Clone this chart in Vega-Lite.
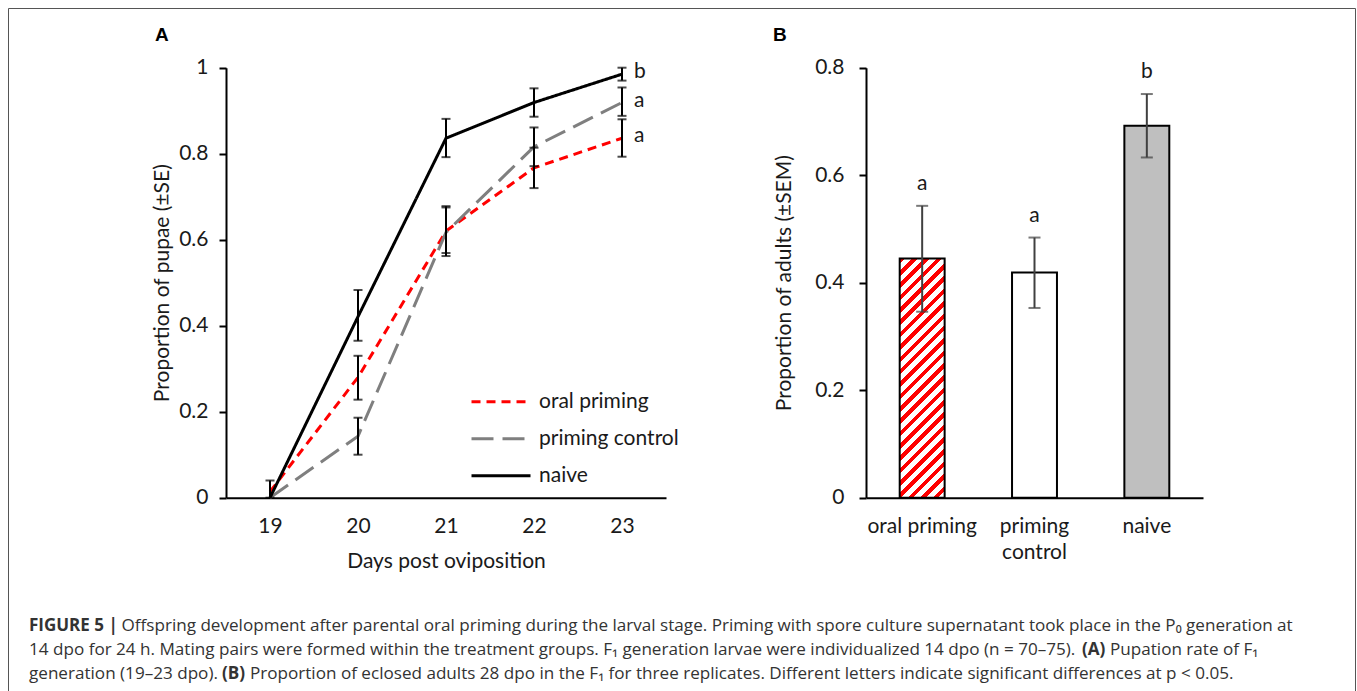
{
  "$schema": "https://vega.github.io/schema/vega-lite/v6.json",
  "background": "white",
  "width": 1347,
  "height": 684,
  "autosize": {"type": "none"},
  "padding": {"left": 8, "top": 8, "right": 2, "bottom": -1},
  "view": {"stroke": "#555555", "strokeWidth": 1},
  "config": {
    "axis": {
      "labelFont": "Lato", "titleFont": "Lato", "labelFontSize": 21, "titleFontSize": 21,
      "labelColor": "#1a1a1a", "titleColor": "#1a1a1a", "titleFontWeight": "normal",
      "domainColor": "black", "domainWidth": 2, "tickColor": "black", "tickWidth": 2, "grid": false
    },
    "text": {"font": "Lato", "fontSize": 21, "color": "#1a1a1a"}
  },
  "resolve": {
    "scale": {"x": "independent", "y": "independent"},
    "axis": {"x": "independent", "y": "independent"}
  },
  "layer": [
    {
      "data": {"values": [
        {"group": "oral priming", "day": 19, "value": 0.014, "lo": 0, "hi": 0.04},
        {"group": "oral priming", "day": 20, "value": 0.28, "lo": 0.228, "hi": 0.33},
        {"group": "oral priming", "day": 21, "value": 0.62, "lo": 0.562, "hi": 0.678},
        {"group": "oral priming", "day": 22, "value": 0.767, "lo": 0.72, "hi": 0.814},
        {"group": "oral priming", "day": 23, "value": 0.836, "lo": 0.793, "hi": 0.88, "sig": "a"},
        {"group": "priming control", "day": 19, "value": 0, "lo": null, "hi": null},
        {"group": "priming control", "day": 20, "value": 0.143, "lo": 0.1, "hi": 0.186},
        {"group": "priming control", "day": 21, "value": 0.617, "lo": 0.569, "hi": 0.675},
        {"group": "priming control", "day": 22, "value": 0.816, "lo": 0.771, "hi": 0.861},
        {"group": "priming control", "day": 23, "value": 0.919, "lo": 0.888, "hi": 0.954, "sig": "a"},
        {"group": "naive", "day": 19, "value": 0, "lo": null, "hi": null},
        {"group": "naive", "day": 20, "value": 0.421, "lo": 0.365, "hi": 0.483},
        {"group": "naive", "day": 21, "value": 0.836, "lo": 0.792, "hi": 0.881},
        {"group": "naive", "day": 22, "value": 0.919, "lo": 0.886, "hi": 0.952},
        {"group": "naive", "day": 23, "value": 0.985, "lo": 0.97, "hi": 1.0, "sig": "b"}
      ]},
      "encoding": {
        "x": {"field": "day", "type": "quantitative",
          "scale": {"domain": [18.5, 23.5], "range": [218, 658], "nice": false, "zero": false},
          "axis": {"orient": "bottom", "offset": -194.3, "values": [19, 20, 21, 22, 23], "format": "d", "ticks": false, "tickSize": 0, "labelPadding": 18, "title": "Days post oviposition", "titlePadding": 14}}
      },
      "layer": [
        {
          "mark": {"type": "line", "strokeWidth": 3},
          "encoding": {
            "y": {"field": "value", "type": "quantitative", "title": "Proportion of pupae (±SE)",
              "scale": {"domain": [0, 1], "range": [489.7, 59.7], "nice": false, "zero": false},
              "axis": {"orient": "left", "offset": -218, "values": [0, 0.2, 0.4, 0.6, 0.8, 1], "format": "~g", "tickSize": 7, "labelPadding": 11, "titlePadding": 6}},
            "color": {"field": "group", "type": "nominal",
              "scale": {"domain": ["oral priming", "priming control", "naive"], "range": ["#ff0000", "#7f7f7f", "#000000"]},
              "legend": {"orient": "none", "legendX": 462, "legendY": 380.7, "title": null, "symbolType": "stroke", "symbolSize": 3481, "symbolStrokeWidth": 3, "clipHeight": 26, "rowPadding": 11, "labelOffset": 7, "labelFont": "Lato", "labelFontSize": 21, "labelColor": "#1a1a1a", "padding": 0}},
            "strokeDash": {"field": "group", "type": "nominal",
              "scale": {"domain": ["oral priming", "priming control", "naive"], "range": [[9, 6], [22, 9], [1, 0]]},
              "legend": {"orient": "none", "legendX": 462, "legendY": 380.7, "title": null, "symbolType": "stroke", "symbolSize": 3481, "symbolStrokeWidth": 3, "clipHeight": 26, "rowPadding": 11, "labelOffset": 7, "labelFont": "Lato", "labelFontSize": 21, "labelColor": "#1a1a1a", "padding": 0}}
          }
        },
        {
          "mark": {"type": "rule", "strokeWidth": 2, "color": "black"},
          "encoding": {
            "y": {"field": "lo", "type": "quantitative", "title": "Proportion of pupae (±SE)"},
            "y2": {"field": "hi"}
          }
        },
        {
          "mark": {"type": "tick", "orient": "horizontal", "size": 9, "thickness": 2, "color": "black"},
          "encoding": {"y": {"field": "lo", "type": "quantitative", "title": "Proportion of pupae (±SE)"}}
        },
        {
          "mark": {"type": "tick", "orient": "horizontal", "size": 9, "thickness": 2, "color": "black"},
          "encoding": {"y": {"field": "hi", "type": "quantitative", "title": "Proportion of pupae (±SE)"}}
        },
        {
          "transform": [{"filter": "datum.sig != null"}],
          "mark": {"type": "text", "align": "left", "baseline": "middle", "dx": 12, "dy": -2, "font": "Lato", "fontSize": 21, "color": "#1a1a1a"},
          "encoding": {
            "y": {"field": "value", "type": "quantitative", "title": "Proportion of pupae (±SE)"},
            "text": {"field": "sig"}
          }
        },
        {
          "transform": [{"filter": "datum.group == 'naive' && datum.day == 19"}],
          "mark": {"type": "text", "align": "left", "baseline": "middle", "dx": -115, "dy": -462.7, "font": "Liberation Sans", "fontSize": 19, "fontWeight": "bold", "color": "black"},
          "encoding": {
            "y": {"field": "value", "type": "quantitative", "title": "Proportion of pupae (±SE)"},
            "text": {"value": "A"}
          }
        },
        {
          "transform": [{"filter": "datum.group == 'naive' && datum.day == 19"}],
          "mark": {"type": "text", "align": "left", "baseline": "middle", "dx": 503, "dy": -462.7, "font": "Liberation Sans", "fontSize": 19, "fontWeight": "bold", "color": "black"},
          "encoding": {
            "y": {"field": "value", "type": "quantitative", "title": "Proportion of pupae (±SE)"},
            "text": {"value": "B"}
          }
        }
      ]
    },
    {
      "data": {"values": [
        {"group": "oral priming", "prop": 0.445, "lo": 0.346, "hi": 0.543, "sig": "a"},
        {"group": "priming control", "prop": 0.419, "lo": 0.353, "hi": 0.484, "sig": "a"},
        {"group": "naive", "prop": 0.692, "lo": 0.633, "hi": 0.751, "sig": "b"}
      ]},
      "encoding": {
        "x": {"field": "group", "type": "nominal", "sort": ["oral priming", "priming control", "naive"],
          "scale": {"range": [858, 1195], "paddingInner": 0.6, "paddingOuter": 0.3},
          "axis": {"orient": "bottom", "offset": -194.3, "title": null, "ticks": false, "tickSize": 0, "labelAngle": 0, "labelPadding": 18, "labelLineHeight": 26,
            "labelExpr": "datum.label == 'priming control' ? ['priming', 'control'] : datum.label"}}
      },
      "layer": [
        {
          "mark": {"type": "bar", "stroke": "black", "strokeWidth": 2},
          "encoding": {
            "y": {"field": "prop", "type": "quantitative", "title": "Proportion of adults (±SEM)",
              "scale": {"domain": [0, 0.8], "range": [489.7, 59.7], "nice": false},
              "axis": {"orient": "left", "offset": -858, "values": [0, 0.2, 0.4, 0.6, 0.8], "format": "~g", "tickSize": 7, "labelPadding": 15, "titlePadding": 20}},
            "fill": {
              "condition": [
                {"test": "datum.group === 'oral priming'", "value": {
                  "gradient": "linear", "x1": 0, "y1": 0, "x2": 0.2155, "y2": 1.1475,
                  "stops": [
                    {"offset": 0, "color": "#ff0000"}, {"offset": 0.019565, "color": "#ff0000"}, {"offset": 0.019565, "color": "#ffffff"}, {"offset": 0.043478, "color": "#ffffff"},
                    {"offset": 0.043478, "color": "#ff0000"}, {"offset": 0.063043, "color": "#ff0000"}, {"offset": 0.063043, "color": "#ffffff"}, {"offset": 0.086957, "color": "#ffffff"},
                    {"offset": 0.086957, "color": "#ff0000"}, {"offset": 0.106522, "color": "#ff0000"}, {"offset": 0.106522, "color": "#ffffff"}, {"offset": 0.130435, "color": "#ffffff"},
                    {"offset": 0.130435, "color": "#ff0000"}, {"offset": 0.15, "color": "#ff0000"}, {"offset": 0.15, "color": "#ffffff"}, {"offset": 0.173913, "color": "#ffffff"},
                    {"offset": 0.173913, "color": "#ff0000"}, {"offset": 0.193478, "color": "#ff0000"}, {"offset": 0.193478, "color": "#ffffff"}, {"offset": 0.217391, "color": "#ffffff"},
                    {"offset": 0.217391, "color": "#ff0000"}, {"offset": 0.236957, "color": "#ff0000"}, {"offset": 0.236957, "color": "#ffffff"}, {"offset": 0.26087, "color": "#ffffff"},
                    {"offset": 0.26087, "color": "#ff0000"}, {"offset": 0.280435, "color": "#ff0000"}, {"offset": 0.280435, "color": "#ffffff"}, {"offset": 0.304348, "color": "#ffffff"},
                    {"offset": 0.304348, "color": "#ff0000"}, {"offset": 0.323913, "color": "#ff0000"}, {"offset": 0.323913, "color": "#ffffff"}, {"offset": 0.347826, "color": "#ffffff"},
                    {"offset": 0.347826, "color": "#ff0000"}, {"offset": 0.367391, "color": "#ff0000"}, {"offset": 0.367391, "color": "#ffffff"}, {"offset": 0.391304, "color": "#ffffff"},
                    {"offset": 0.391304, "color": "#ff0000"}, {"offset": 0.41087, "color": "#ff0000"}, {"offset": 0.41087, "color": "#ffffff"}, {"offset": 0.434783, "color": "#ffffff"},
                    {"offset": 0.434783, "color": "#ff0000"}, {"offset": 0.454348, "color": "#ff0000"}, {"offset": 0.454348, "color": "#ffffff"}, {"offset": 0.478261, "color": "#ffffff"},
                    {"offset": 0.478261, "color": "#ff0000"}, {"offset": 0.497826, "color": "#ff0000"}, {"offset": 0.497826, "color": "#ffffff"}, {"offset": 0.521739, "color": "#ffffff"},
                    {"offset": 0.521739, "color": "#ff0000"}, {"offset": 0.541304, "color": "#ff0000"}, {"offset": 0.541304, "color": "#ffffff"}, {"offset": 0.565217, "color": "#ffffff"},
                    {"offset": 0.565217, "color": "#ff0000"}, {"offset": 0.584783, "color": "#ff0000"}, {"offset": 0.584783, "color": "#ffffff"}, {"offset": 0.608696, "color": "#ffffff"},
                    {"offset": 0.608696, "color": "#ff0000"}, {"offset": 0.628261, "color": "#ff0000"}, {"offset": 0.628261, "color": "#ffffff"}, {"offset": 0.652174, "color": "#ffffff"},
                    {"offset": 0.652174, "color": "#ff0000"}, {"offset": 0.671739, "color": "#ff0000"}, {"offset": 0.671739, "color": "#ffffff"}, {"offset": 0.695652, "color": "#ffffff"},
                    {"offset": 0.695652, "color": "#ff0000"}, {"offset": 0.715217, "color": "#ff0000"}, {"offset": 0.715217, "color": "#ffffff"}, {"offset": 0.73913, "color": "#ffffff"},
                    {"offset": 0.73913, "color": "#ff0000"}, {"offset": 0.758696, "color": "#ff0000"}, {"offset": 0.758696, "color": "#ffffff"}, {"offset": 0.782609, "color": "#ffffff"},
                    {"offset": 0.782609, "color": "#ff0000"}, {"offset": 0.802174, "color": "#ff0000"}, {"offset": 0.802174, "color": "#ffffff"}, {"offset": 0.826087, "color": "#ffffff"},
                    {"offset": 0.826087, "color": "#ff0000"}, {"offset": 0.845652, "color": "#ff0000"}, {"offset": 0.845652, "color": "#ffffff"}, {"offset": 0.869565, "color": "#ffffff"},
                    {"offset": 0.869565, "color": "#ff0000"}, {"offset": 0.88913, "color": "#ff0000"}, {"offset": 0.88913, "color": "#ffffff"}, {"offset": 0.913043, "color": "#ffffff"},
                    {"offset": 0.913043, "color": "#ff0000"}, {"offset": 0.932609, "color": "#ff0000"}, {"offset": 0.932609, "color": "#ffffff"}, {"offset": 0.956522, "color": "#ffffff"},
                    {"offset": 0.956522, "color": "#ff0000"}, {"offset": 0.976087, "color": "#ff0000"}, {"offset": 0.976087, "color": "#ffffff"}, {"offset": 1, "color": "#ffffff"}
                  ]}},
                {"test": "datum.group === 'naive'", "value": "#bfbfbf"}
              ],
              "value": "#ffffff"
            }
          }
        },
        {
          "mark": {"type": "rule", "strokeWidth": 2, "color": "#404040"},
          "encoding": {
            "y": {"field": "lo", "type": "quantitative", "title": "Proportion of adults (±SEM)"},
            "y2": {"field": "hi"}
          }
        },
        {
          "mark": {"type": "tick", "orient": "horizontal", "size": 12, "thickness": 2, "color": "#404040"},
          "encoding": {"y": {"field": "lo", "type": "quantitative", "title": "Proportion of adults (±SEM)"}}
        },
        {
          "mark": {"type": "tick", "orient": "horizontal", "size": 12, "thickness": 2, "color": "#404040"},
          "encoding": {"y": {"field": "hi", "type": "quantitative", "title": "Proportion of adults (±SEM)"}}
        },
        {
          "mark": {"type": "text", "align": "center", "baseline": "middle", "dy": -22, "font": "Lato", "fontSize": 21, "color": "#1a1a1a"},
          "encoding": {
            "y": {"field": "hi", "type": "quantitative", "title": "Proportion of adults (±SEM)"},
            "text": {"field": "sig"}
          }
        }
      ]
    },
    {
      "data": {"values": [
        {"seg": "l1b", "line": 1, "text": "FIGURE 5 |"},
        {"seg": "l1n", "line": 1, "text": "Offspring development after parental oral priming during the larval stage. Priming with spore culture supernatant took place in the P₀ generation at"},
        {"seg": "l2a", "line": 2, "text": "14 dpo for 24 h. Mating pairs were formed within the treatment groups. F₁ generation larvae were individualized 14 dpo (n = 70–75)."},
        {"seg": "l2b", "line": 2, "text": "(A)"},
        {"seg": "l2c", "line": 2, "text": "Pupation rate of F₁"},
        {"seg": "l3a", "line": 3, "text": "generation (19–23 dpo)."},
        {"seg": "l3b", "line": 3, "text": "(B)"},
        {"seg": "l3c", "line": 3, "text": "Proportion of eclosed adults 28 dpo in the F₁ for three replicates. Different letters indicate significant differences at p < 0.05."}
      ]},
      "encoding": {
        "x": {"value": 21},
        "y": {"field": "line", "type": "quantitative", "scale": {"domain": [1, 3], "range": [617.5, 665.5], "nice": false, "zero": false}, "axis": null},
        "text": {"field": "text"}
      },
      "layer": [
        {"transform": [{"filter": "datum.seg == 'l1b'"}], "mark": {"type": "text", "align": "left", "baseline": "middle", "font": "Open Sans", "fontSize": 17, "fontWeight": "bold", "color": "#333333", "dx": 0}},
        {"transform": [{"filter": "datum.seg == 'l1n'"}], "mark": {"type": "text", "align": "left", "baseline": "middle", "font": "Open Sans", "fontSize": 17.1, "color": "#333333", "dx": 92.5}},
        {"transform": [{"filter": "datum.seg == 'l2a'"}], "mark": {"type": "text", "align": "left", "baseline": "middle", "font": "Open Sans", "fontSize": 17.1, "color": "#333333", "dx": 0}},
        {"transform": [{"filter": "datum.seg == 'l2b'"}], "mark": {"type": "text", "align": "left", "baseline": "middle", "font": "Open Sans", "fontSize": 17.1, "fontWeight": "bold", "color": "#333333", "dx": 1053}},
        {"transform": [{"filter": "datum.seg == 'l2c'"}], "mark": {"type": "text", "align": "left", "baseline": "middle", "font": "Open Sans", "fontSize": 17.1, "color": "#333333", "dx": 1081}},
        {"transform": [{"filter": "datum.seg == 'l3a'"}], "mark": {"type": "text", "align": "left", "baseline": "middle", "font": "Open Sans", "fontSize": 17.1, "color": "#333333", "dx": 0}},
        {"transform": [{"filter": "datum.seg == 'l3b'"}], "mark": {"type": "text", "align": "left", "baseline": "middle", "font": "Open Sans", "fontSize": 17.1, "fontWeight": "bold", "color": "#333333", "dx": 193}},
        {"transform": [{"filter": "datum.seg == 'l3c'"}], "mark": {"type": "text", "align": "left", "baseline": "middle", "font": "Open Sans", "fontSize": 17.1, "color": "#333333", "dx": 221}}
      ]
    }
  ]
}
